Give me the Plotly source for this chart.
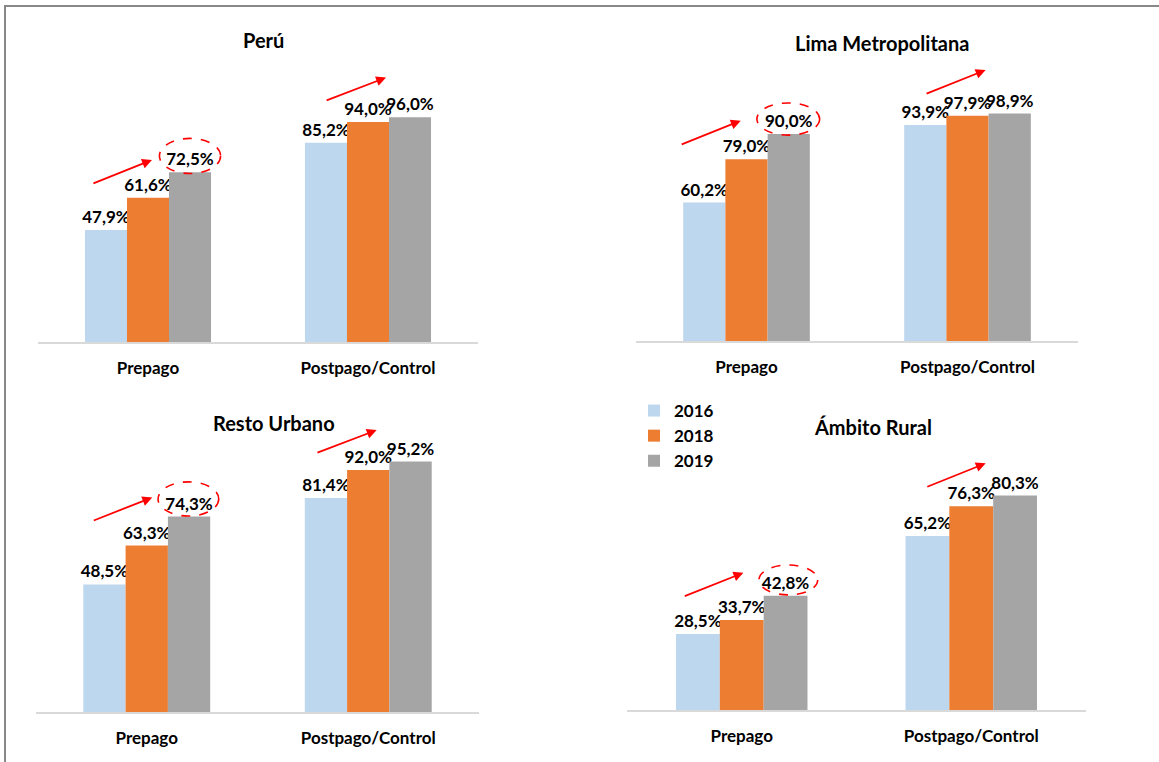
import plotly.graph_objects as go

# ---------------- data ----------------
regions = ["Perú", "Lima Metropolitana", "Resto Urbano", "Ámbito Rural"]
categories = ["Prepago", "Postpago/Control"]
years = ["2016", "2018", "2019"]

peru_2016 = [47.9, 85.2]
peru_2018 = [61.6, 94.0]
peru_2019 = [72.5, 96.0]

lima_2016 = [60.2, 93.9]
lima_2018 = [79.0, 97.9]
lima_2019 = [90.0, 98.9]

resto_2016 = [48.5, 81.4]
resto_2018 = [63.3, 92.0]
resto_2019 = [74.3, 95.2]

rural_2016 = [28.5, 65.2]
rural_2018 = [33.7, 76.3]
rural_2019 = [42.8, 80.3]

series = [
    [peru_2016, peru_2018, peru_2019],
    [lima_2016, lima_2018, lima_2019],
    [resto_2016, resto_2018, resto_2019],
    [rural_2016, rural_2018, rural_2019],
]

# ---------------- styling / layout ----------------
W, H = 1159, 762
colors = ["#BDD7EE", "#ED7D31", "#A5A5A5"]
FONT = "Lato, Calibri, Carlito, sans-serif"

# panel geometry in pixels: x-left, x-right, baseline, px per unit
panels = [
    (38, 478, 342, 2.34),
    (636, 1078, 341, 2.30),
    (36, 479, 712, 2.63),
    (627, 1086, 710, 2.67),
]
YMAX = 125
titles_px = [(263, 40), (882, 43), (274, 423), (873, 427)]

# decorations (data coords): arrows (x0,y0,x1,y1) and ellipse (cx,cy,hx,hy)
arrows = [
    [(-0.255, 67.5, 0.018, 77.8), (0.805, 103.0, 1.082, 113.0)],
    [(-0.30, 85.2, -0.026, 95.8), (0.808, 107.3, 1.082, 117.8)],
    [(-0.246, 72.6, 0.025, 81.6), (0.764, 98.4, 1.038, 107.2)],
    [(-0.255, 42.4, 0.007, 51.4), (0.802, 83.4, 1.063, 92.4)],
]
ellipses = [
    (0.191, 79.5, 0.139, 7.5),
    (0.189, 96.5, 0.142, 7.0),
    (0.188, 81.0, 0.137, 6.5),
    (0.203, 48.7, 0.128, 5.6),
]


def fmt(v):
    return f"{v:.1f}%".replace(".", ",")


fig = go.Figure()
layout = dict(
    width=W, height=H,
    margin=dict(l=0, r=0, t=0, b=0),
    paper_bgcolor="white", plot_bgcolor="white",
    barmode="group", bargap=0.427, bargroupgap=0,
    font=dict(family=FONT, size=16, color="black"),
    showlegend=True,
    legend=dict(
        x=634 / W, y=1 - 393 / H, xanchor="left", yanchor="top",
        bgcolor="rgba(0,0,0,0)", traceorder="grouped", tracegroupgap=0,
        font=dict(family=FONT, size=17, color="black", weight="bold"),
        itemclick=False,
    ),
)
annotations = []
shapes = []

for p, (xl, xr, base, scale) in enumerate(panels):
    sfx = "" if p == 0 else str(p + 1)
    xa, ya = "x" + sfx, "y" + sfx
    top = base - YMAX * scale
    layout["xaxis" + sfx] = dict(
        domain=[xl / W, xr / W], anchor=ya, type="category",
        showline=True, linecolor="#D9D9D9", linewidth=2,
        ticks="", showgrid=False, zeroline=False, fixedrange=True,
        tickfont=dict(family=FONT, size=17, color="black", weight="bold"),
        ticklabelstandoff=10,
    )
    layout["yaxis" + sfx] = dict(
        domain=[1 - base / H, 1 - top / H], anchor=xa, range=[0, YMAX],
        visible=False, showgrid=False, zeroline=False, fixedrange=True,
    )
    for i, yr in enumerate(years):
        vals = series[p][i]
        fig.add_trace(go.Bar(
            x=categories, y=vals, name=yr, xaxis=xa, yaxis=ya,
            marker=dict(color=colors[i], line=dict(width=0)),
            text=[fmt(v) for v in vals], textposition="outside",
            textfont=dict(family=FONT, size=17, color="black", weight="bold"),
            constraintext="none", cliponaxis=False,
            legendgroup=yr, showlegend=(p == 0), hoverinfo="skip",
        ))
    # title
    tx, ty = titles_px[p]
    annotations.append(dict(
        text=regions[p], x=tx / W, y=1 - ty / H, xref="paper", yref="paper",
        showarrow=False, xanchor="center", yanchor="middle",
        font=dict(family=FONT, size=20, color="black", weight="bold"),
    ))
    # arrows
    for (x0, y0, x1, y1) in arrows[p]:
        annotations.append(dict(
            x=x1, y=y1, ax=x0, ay=y0, xref=xa, yref=ya, axref=xa, ayref=ya,
            showarrow=True, arrowhead=2, arrowsize=1.1, arrowwidth=1.8,
            arrowcolor="#FF0000", text="",
        ))
    # dashed ellipse
    cx, cy, hx, hy = ellipses[p]
    shapes.append(dict(
        type="circle", xref=xa, yref=ya,
        x0=cx - hx, x1=cx + hx, y0=cy - hy, y1=cy + hy,
        line=dict(color="#FF0000", width=1.6, dash="dash"),
    ))

# outer frame
shapes.append(dict(
    type="rect", xref="paper", yref="paper",
    x0=5 / W, x1=1.02, y0=-0.02, y1=1 - 6 / H,
    line=dict(color="#888888", width=2), fillcolor="rgba(0,0,0,0)",
))

layout["annotations"] = annotations
layout["shapes"] = shapes
fig.update_layout(**layout)
fig.write_html(
    "out.html",
    config={"displayModeBar": False},
    post_script="document.body.style.margin='0';document.body.style.overflow='hidden';",
)
